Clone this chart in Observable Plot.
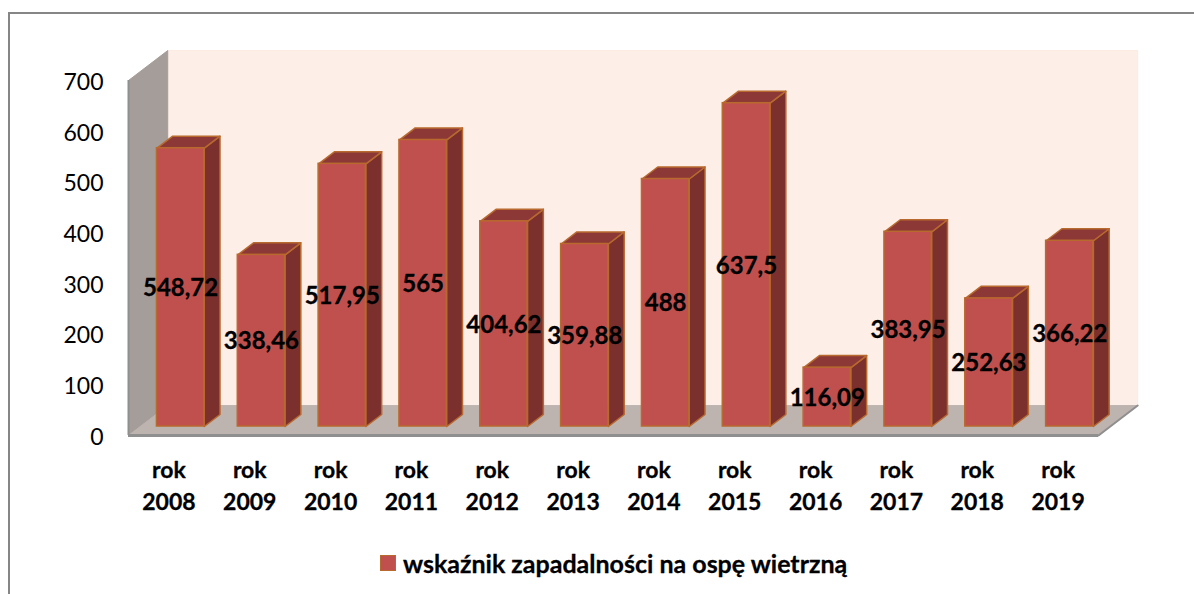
<!DOCTYPE html>
<html lang="pl">
<head>
<meta charset="utf-8">
<script src="https://cdn.jsdelivr.net/npm/d3@7"></script>
<script src="https://cdn.jsdelivr.net/npm/@observablehq/plot@0.6"></script>
<style>
  html, body { margin: 0; background: #fff; overflow: hidden; }
  #chart { position: relative; width: 1194px; height: 594px; font-family: Lato, sans-serif; }
  #frame { position: absolute; left: 8px; top: 12px; right: 0; bottom: 0; border-top: 2px solid #868686; border-left: 2px solid #868686; }
  #chart svg { position: absolute; left: 0; top: 0; }
  #legend { position: absolute; left: 380px; top: 547px; height: 32px; display: flex; align-items: center; font: bold 25px Lato, sans-serif; color: #000; white-space: nowrap; -webkit-text-stroke: 0.3px #000; }
  #legend i { display: inline-block; box-sizing: border-box; width: 16px; height: 16px; margin-right: 7px; background: #c0504d; border: 1px solid #b8692e; }
</style>
</head>
<body>
<div id="chart"><div id="frame"></div></div>
<script>
const years = [2008, 2009, 2010, 2011, 2012, 2013, 2014, 2015, 2016, 2017, 2018, 2019];
const values = [548.72, 338.46, 517.95, 565, 404.62, 359.88, 488, 637.5, 116.09, 383.95, 252.63, 366.22];
const valueLabels = ["548,72", "338,46", "517,95", "565", "404,62", "359,88", "488", "637,5", "116,09", "383,95", "252,63", "366,22"];
const yTicks = [0, 100, 200, 300, 400, 500, 600, 700];
const legendLabel = "wskaźnik zapadalności na ospę wietrzną";

const yMax = 700;
const wallDX = 0.485, wallDY = 59;      // box depth in data units
const barGap = 0.352, barW = 0.585;     // bar position inside its category
const barDX = 0.195, barDY = 23.7;      // bar depth in data units
const lift = -9;                        // bars stand part-way back on the floor

const n = years.length;
const poly = (id, pts) => pts.map(([x, y]) => ({id, x, y}));

const leftWall = poly("l", [[0, 0], [wallDX, wallDY], [wallDX, yMax + wallDY], [0, yMax], [0, 0]]);
const backWall = poly("b", [[wallDX, wallDY], [n + wallDX, wallDY], [n + wallDX, yMax + wallDY], [wallDX, yMax + wallDY], [wallDX, wallDY]]);
const floor = poly("f", [[0, 0], [n, 0], [n + wallDX, wallDY], [wallDX, wallDY], [0, 0]]);

const bars = years.map((year, i) => ({year, i, value: values[i], x1: i + barGap, x2: i + barGap + barW, label: valueLabels[i]}));
const sides = bars.flatMap(b => poly(b.year, [[b.x2, 0], [b.x2 + barDX, barDY], [b.x2 + barDX, b.value + barDY], [b.x2, b.value], [b.x2, 0]]));
const tops = bars.flatMap(b => poly(b.year, [[b.x1, b.value], [b.x2, b.value], [b.x2 + barDX, b.value + barDY], [b.x1 + barDX, b.value + barDY], [b.x1, b.value]]));

const edge = "#b8692e";
const polyMark = (data, fill, stroke, extra = {}) => Plot.line(data, {x: "x", y: "y", z: "id", fill, stroke, strokeWidth: 1.5, strokeLinejoin: "round", ...extra});
const boldText = {fill: "#000", stroke: "#000", strokeWidth: 0.3, fontWeight: "bold", fontFamily: "Lato, sans-serif"};

const plot = Plot.plot({
  width: 1194,
  height: 594,
  marginLeft: 128,
  marginRight: 96,
  marginTop: 80,
  marginBottom: 159,
  style: {background: "transparent", overflow: "visible"},
  x: {domain: [0, n], axis: null},
  y: {domain: [0, yMax], axis: null},
  marks: [
    polyMark(backWall, "#fdeee7", "#fbeae2", {strokeWidth: 1}),
    polyMark(leftWall, "#a59d99", "#a59d99", {strokeWidth: 1}),
    polyMark(floor, "#bdb3af", "#bdb3af", {strokeWidth: 1}),
    Plot.ruleY([0], {x1: 0, x2: n, stroke: "#8f8f8f", strokeWidth: 3}),
    Plot.ruleX([0], {y1: 0, y2: yMax, stroke: "#8f8f8f", strokeWidth: 2}),
    Plot.line(poly("e", [[n, 0], [n + wallDX, wallDY]]), {x: "x", y: "y", stroke: "#8f8f8f", strokeWidth: 2}),
    polyMark(sides, "#7b302e", edge, {dy: lift}),
    polyMark(tops, "#8c3836", edge, {dy: lift}),
    Plot.rect(bars, {x1: "x1", x2: "x2", y1: 0, y2: "value", fill: "#c0504d", stroke: edge, strokeWidth: 1.5, dy: lift}),
    Plot.text(bars, {x: d => d.x1 + barW / 2, y: d => d.value / 2, text: "label", dy: lift + 1, fontSize: 24, ...boldText}),
    Plot.axisY({ticks: yTicks, tickSize: 0, tickPadding: 25, tickFormat: d => String(d), dy: 2, fontSize: 23, fontFamily: "Lato, sans-serif", fill: "#000", label: null}),
    Plot.text(bars, {x: d => d.i + 0.5, y: 0, text: d => "rok\n" + d.year, dy: 48, lineHeight: 1.4, fontSize: 23, ...boldText})
  ]
});
const host = document.getElementById("chart");
host.appendChild(plot);
const legend = document.createElement("div");
legend.id = "legend";
legend.innerHTML = "<i></i>";
legend.appendChild(document.createTextNode(legendLabel));
host.appendChild(legend);
</script>
</body>
</html>
